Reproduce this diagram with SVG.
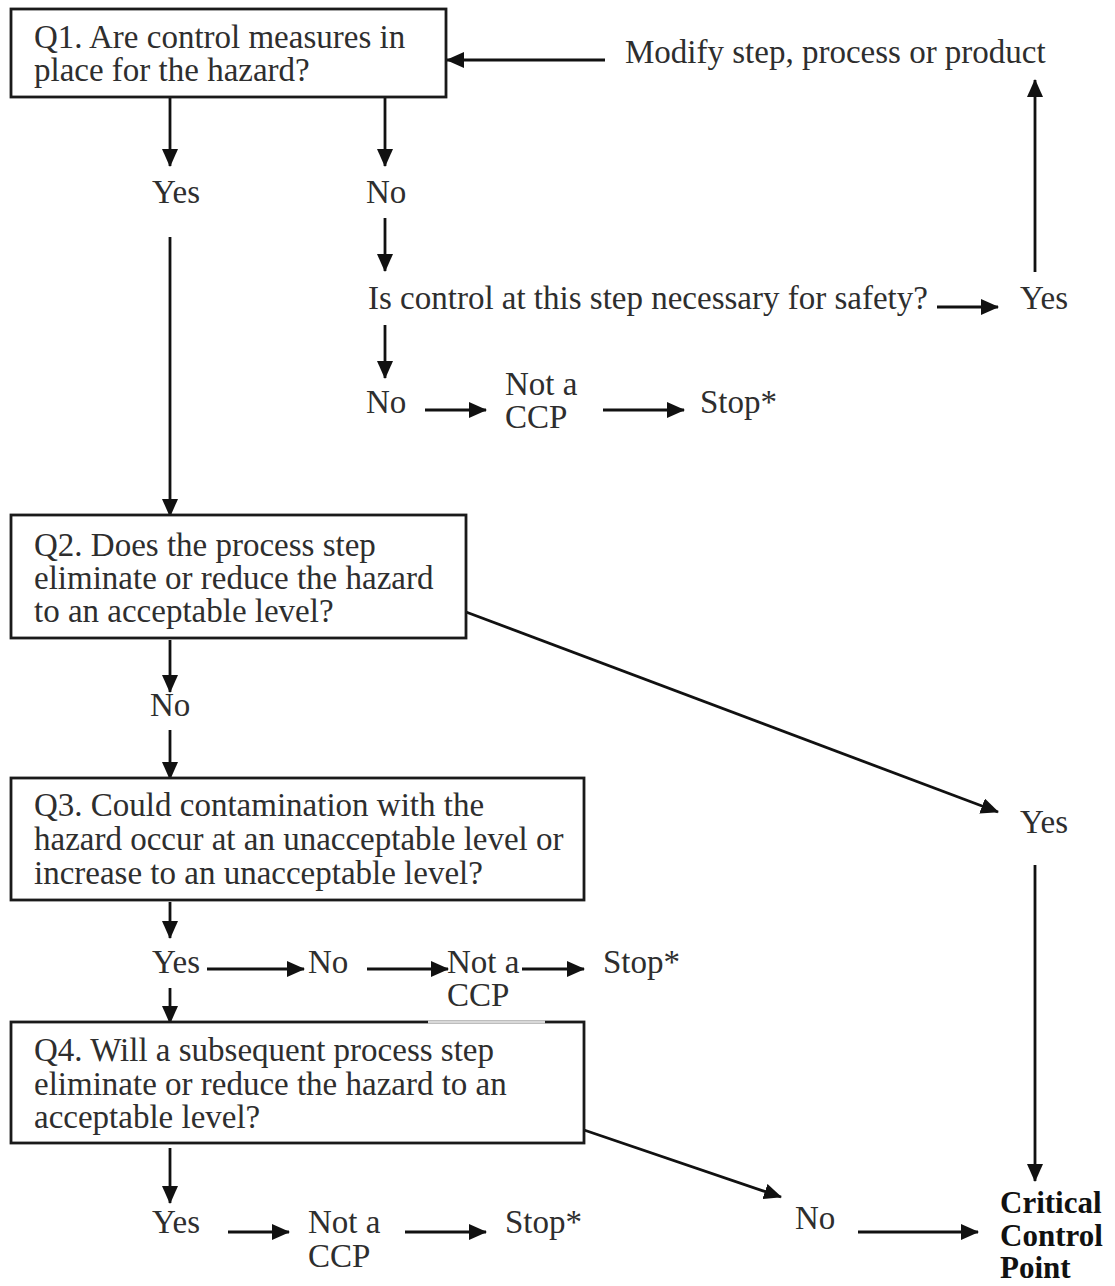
<svg xmlns="http://www.w3.org/2000/svg" width="1115" height="1286" viewBox="0 0 1115 1286">
<style>
.box{fill:#fff;stroke:#1a1a1a;stroke-width:2.8}
.t{font-family:"Liberation Serif","Times New Roman",serif;font-size:33px;fill:#2e2e2e}
.b{font-family:"Liberation Serif","Times New Roman",serif;font-size:31px;font-weight:bold;fill:#111}
.c{stroke:#111;stroke-width:2.8;fill:none;marker-end:url(#ah)}
</style>
<defs>
<marker id="ah" markerUnits="userSpaceOnUse" markerWidth="18" markerHeight="16" refX="17" refY="8" orient="auto" viewBox="0 0 18 16">
<path d="M0,0 L18,8 L0,16 Z" fill="#111"/>
</marker>
</defs>
<rect width="1115" height="1286" fill="#fff"/>

<g id="connectors">
<line class="c" x1="605" y1="60" x2="447" y2="60"/>
<line class="c" x1="170" y1="97" x2="170" y2="166"/>
<line class="c" x1="385" y1="97" x2="385" y2="166"/>
<line class="c" x1="385" y1="218" x2="385" y2="271"/>
<line class="c" x1="937" y1="307" x2="998" y2="307"/>
<line class="c" x1="1035" y1="272" x2="1035" y2="80"/>
<line class="c" x1="385" y1="325" x2="385" y2="378"/>
<line class="c" x1="425" y1="410" x2="486" y2="410"/>
<line class="c" x1="603" y1="410" x2="684" y2="410"/>
<line class="c" x1="170" y1="237" x2="170" y2="516"/>
<line class="c" x1="170" y1="640" x2="170" y2="692"/>
<line class="c" x1="170" y1="730" x2="170" y2="779"/>
<line class="c" x1="466" y1="612" x2="998" y2="812"/>
<line class="c" x1="1035" y1="865" x2="1035" y2="1181"/>
<line class="c" x1="170" y1="902" x2="170" y2="938"/>
<line class="c" x1="207" y1="969" x2="304" y2="969"/>
<line class="c" x1="367" y1="969" x2="448" y2="969"/>
<line class="c" x1="522" y1="969" x2="584" y2="969"/>
<line class="c" x1="170" y1="988" x2="170" y2="1023"/>
<line class="c" x1="170" y1="1148" x2="170" y2="1203"/>
<line class="c" x1="228" y1="1232" x2="289" y2="1232"/>
<line class="c" x1="405" y1="1232" x2="486" y2="1232"/>
<line class="c" x1="584" y1="1130" x2="781" y2="1197"/>
<line class="c" x1="858" y1="1232" x2="978" y2="1232"/>
</g>

<g id="q1">
<rect class="box" x="11" y="9" width="435" height="88"/>
<text class="t" x="34" y="48">Q1. Are control measures in</text>
<text class="t" x="34" y="81">place for the hazard?</text>
</g>
<g id="modify"><text class="t" x="625" y="63">Modify step, process or product</text></g>
<g id="q1-yes"><text class="t" x="152" y="203">Yes</text></g>
<g id="q1-no"><text class="t" x="366" y="203">No</text></g>
<g id="necessary"><text class="t" x="368" y="309">Is control at this step necessary for safety?</text></g>
<g id="nec-yes"><text class="t" x="1020" y="309">Yes</text></g>
<g id="nec-no"><text class="t" x="366" y="413">No</text></g>
<g id="notccp1"><text class="t" x="505" y="395">Not a</text><text class="t" x="505" y="428">CCP</text></g>
<g id="stop1"><text class="t" x="700" y="413">Stop*</text></g>

<g id="q2">
<rect class="box" x="11" y="515" width="455" height="123"/>
<text class="t" x="34" y="556">Q2. Does the process step</text>
<text class="t" x="34" y="589">eliminate or reduce the hazard</text>
<text class="t" x="34" y="622">to an acceptable level?</text>
</g>
<g id="q2-no"><text class="t" x="150" y="716">No</text></g>
<g id="q2-yes"><text class="t" x="1020" y="833">Yes</text></g>

<g id="q3">
<rect class="box" x="11" y="778" width="573" height="122"/>
<text class="t" x="34" y="816">Q3. Could contamination with the</text>
<text class="t" x="34" y="850">hazard occur at an unacceptable level or</text>
<text class="t" x="34" y="884">increase to an unacceptable level?</text>
</g>
<g id="q3-yes"><text class="t" x="152" y="973">Yes</text></g>
<g id="q3-no"><text class="t" x="308" y="973">No</text></g>
<g id="notccp2"><text class="t" x="447" y="973">Not a</text><text class="t" x="447" y="1006">CCP</text></g>
<g id="stop2"><text class="t" x="603" y="973">Stop*</text></g>

<g id="q4">
<rect class="box" x="11" y="1022" width="573" height="121"/>
<line x1="428" y1="1022" x2="545" y2="1022" stroke="#d8d8d8" stroke-width="3"/>
<text class="t" x="34" y="1061">Q4. Will a subsequent process step</text>
<text class="t" x="34" y="1095">eliminate or reduce the hazard to an</text>
<text class="t" x="34" y="1128">acceptable level?</text>
</g>
<g id="q4-yes"><text class="t" x="152" y="1233">Yes</text></g>
<g id="notccp3"><text class="t" x="308" y="1233">Not a</text><text class="t" x="308" y="1267">CCP</text></g>
<g id="stop3"><text class="t" x="505" y="1233">Stop*</text></g>
<g id="q4-no"><text class="t" x="795" y="1229">No</text></g>
<g id="ccp">
<text class="b" x="1000" y="1213">Critical</text>
<text class="b" x="1000" y="1246">Control</text>
<text class="b" x="1000" y="1278">Point</text>
</g>
</svg>
